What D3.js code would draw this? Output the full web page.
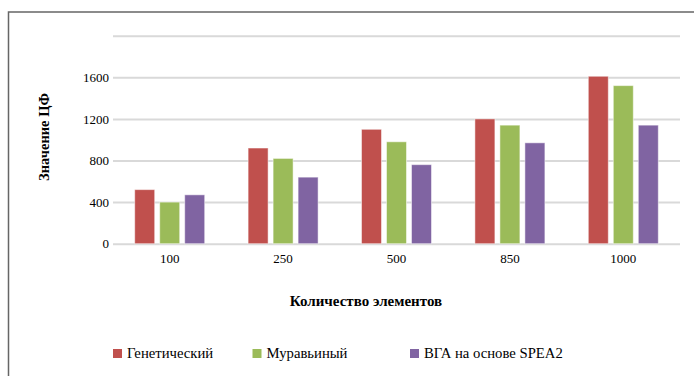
<!DOCTYPE html>
<html>
<head>
<meta charset="utf-8">
<script src="https://cdn.jsdelivr.net/npm/d3@7"></script>
<style>
  html, body { margin: 0; padding: 0; background: #fff; }
  svg { display: block; }
  svg text { font-family: "Liberation Serif", "DejaVu Serif", serif !important; fill: #000; }
</style>
</head>
<body>
<svg id="chart" width="694" height="376"></svg>
<script>
// Number of elements per test case
const categories = ["100", "250", "500", "850", "1000"];
// Series names
const seriesNames = ["Генетический", "Муравьиный", "ВГА на основе SPEA2"];
// Objective function values per algorithm
const genetic = [520, 920, 1100, 1200, 1610];
const antColony = [400, 820, 980, 1140, 1520];
const spea2 = [470, 640, 760, 970, 1140];
const yTicks = [0, 400, 800, 1200, 1600, 2000];
const colors = ["#C0504D", "#9BBB59", "#8064A2"];

const seriesValues = [genetic, antColony, spea2];

const svg = d3.select("#chart");
const W = 694, H = 376;
const plot = { left: 113, right: 680, top: 35.7, bottom: 243.7 };

// Outer frame (left and top edges visible)
svg.append("rect")
  .attr("x", 8.5).attr("y", 12)
  .attr("width", W + 20).attr("height", H + 20)
  .attr("fill", "none").attr("stroke", "#666").attr("stroke-width", 1.5);

const x = d3.scaleBand().domain(categories).range([plot.left, plot.right]).padding(0);
const xInner = d3.scaleBand().domain(d3.range(seriesNames.length)).range([-35, 35]).paddingInner(0.2);
const y = d3.scaleLinear().domain([0, 2000]).range([plot.bottom, plot.top]);

// Horizontal gridlines with tick labels
const yAxis = d3.axisLeft(y).tickValues(yTicks)
  .tickSize(-(plot.right - plot.left)).tickPadding(8)
  .tickFormat(d => d === 2000 ? "" : d);
const gy = svg.append("g").attr("transform", `translate(${plot.left},0)`).call(yAxis);
gy.select(".domain").remove();
gy.selectAll(".tick line").attr("stroke", "#d9d9d9").attr("stroke-width", 2);
gy.selectAll(".tick text").attr("font-size", 13).attr("fill", "#000").attr("x", -4);

// Category labels
const xAxis = d3.axisBottom(x).tickSize(0).tickPadding(10);
const gx = svg.append("g").attr("transform", `translate(0,${plot.bottom})`).call(xAxis);
gx.select(".domain").remove();
gx.selectAll(".tick text").attr("font-size", 13).attr("fill", "#000");

// Bars
const groups = svg.append("g").selectAll("g")
  .data(categories).join("g")
  .attr("transform", d => `translate(${x(d) + x.bandwidth() / 2},0)`);

groups.selectAll("rect")
  .data((c, i) => seriesValues.map((vals, s) => ({ s, v: vals[i] })))
  .join("rect")
  .attr("x", d => xInner(d.s))
  .attr("width", xInner.bandwidth())
  .attr("y", d => y(d.v))
  .attr("height", d => y(0) - y(d.v))
  .attr("fill", d => colors[d.s])
  .attr("stroke", "#fff").attr("stroke-opacity", 0.5).attr("stroke-width", 1);

// Axis titles
svg.append("text")
  .attr("transform", `translate(49,137) rotate(-90)`)
  .attr("text-anchor", "middle")
  .attr("font-size", 14.5).attr("font-weight", "bold")
  .text("Значение ЦФ");

svg.append("text")
  .attr("x", 366).attr("y", 306)
  .attr("text-anchor", "middle")
  .attr("font-size", 15).attr("font-weight", "bold")
  .text("Количество элементов");

// Legend
const legendX = [113, 252.5, 410];
const legend = svg.append("g").selectAll("g")
  .data(seriesNames).join("g")
  .attr("transform", (d, i) => `translate(${legendX[i]},349)`);
legend.append("rect").attr("width", 9).attr("height", 9).attr("fill", (d, i) => colors[i]);
legend.append("text").attr("x", 14).attr("y", 8.5)
  .attr("font-size", 14.7).text(d => d);
</script>
</body>
</html>
